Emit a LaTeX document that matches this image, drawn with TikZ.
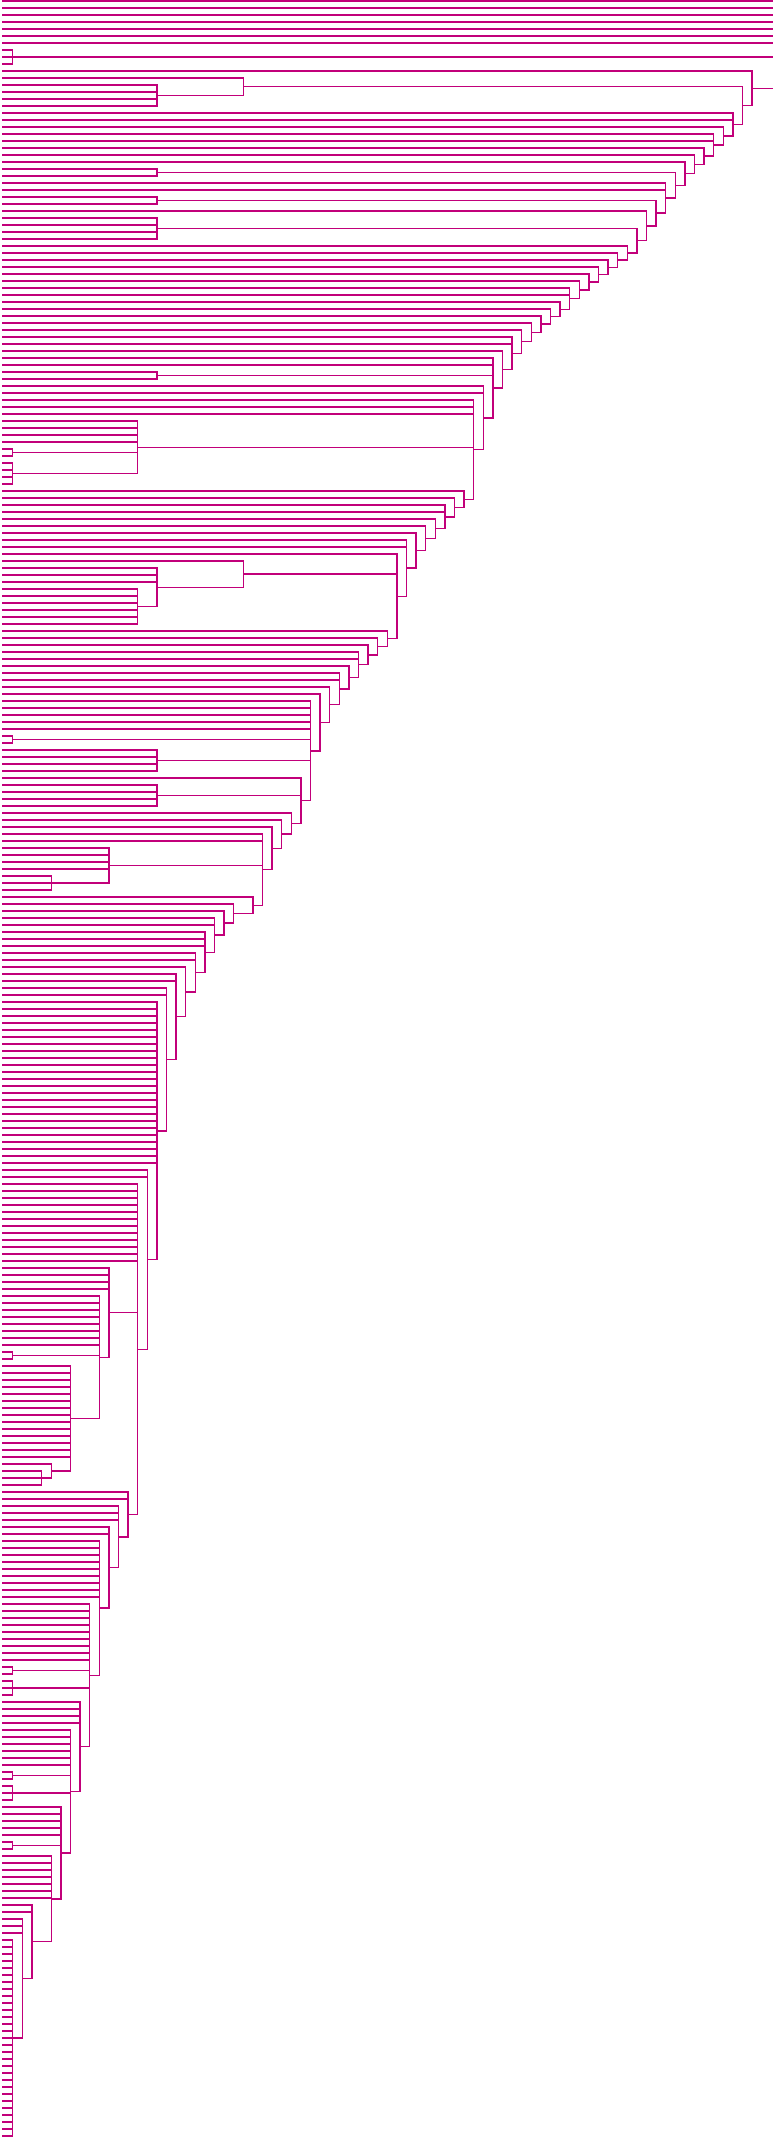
\documentclass[tikz,border=0pt]{standalone}
\usepackage{tikz}
\definecolor{branchcol}{RGB}{194,0,122}
\tikzset{branch/.style={draw=branchcol, line width=0.7pt, line cap=rect}}

\newcount\leafidx
\newcount\leafrun
% a leaf hands its row up to the clade that takes it
\newcommand\leafone{%
  \xdef\retY{\the\leafidx}\gdef\retX{0}%
  \global\advance\leafidx by 1\relax
  \childdone}
\newcommand\leaves[1]{\leafrun=#1\relax
  \loop\ifnum\leafrun>0 \leafone\advance\leafrun by -1\relax\repeat}
\newcommand\cladechild{%
  \draw[branch] (\retX,\retY) -- (\cladeh,\retY);
  \ifx\ytop\relax\edef\ytop{\retY}\fi
  \edef\ybot{\retY}}
% clade at height #1 with children #2
\newcommand\clade[2]{%
  \begingroup
    \def\cladeh{#1}\let\ytop\relax
    \let\childdone\cladechild
    #2%
    \draw[branch] (\cladeh,\ytop) -- (\cladeh,\ybot);
    \pgfmathsetmacro\ymid{(\ytop+\ybot)/2}%
    \xdef\retY{\ymid}\xdef\retX{\cladeh}%
  \endgroup
  \childdone}

\begin{document}
\begin{tikzpicture}[x=4.8pt, y=-3.5pt]
\useasboundingbox (-0.3333,-0.1429) rectangle (80.083,305.43);
\def\childdone{\draw[branch] (\retX,\retY) -- (80.2,\retY);}
% joined above the cut
\leaves{7}
\clade{1}{\leaves{3}}
\clade{78}{\leafone
\clade{77}{
\clade{25}{\leafone \clade{16}{\leaves{4}}}
\clade{76}{\leaves{2}
\clade{75}{\leafone
\clade{74}{\leaves{2}
\clade{73}{\leafone
\clade{72}{\leafone
\clade{71}{\leafone
\clade{70}{\clade{16}{\leaves{2}}
\clade{69}{\leaves{2}
\clade{68}{\clade{16}{\leaves{2}}
\clade{67}{\leafone
\clade{66}{\clade{16}{\leaves{4}}
\clade{65}{\leafone
\clade{64}{\leafone
\clade{63}{\leafone
\clade{62}{\leafone
\clade{61}{\leafone
\clade{60}{\leafone
\clade{59}{\leaves{2}
\clade{58}{\leafone
\clade{57}{\leafone
\clade{56}{\leafone
\clade{55}{\leafone
\clade{54}{\leafone
\clade{53}{\leaves{2}
\clade{52}{\leafone
\clade{51}{\leaves{2} \clade{16}{\leaves{2}}
\clade{50}{\leaves{2}
\clade{49}{\leaves{3} \clade{14}{\leaves{4} \clade{1}{\leaves{2}} \clade{1}{\leaves{4}}}
\clade{48}{\leafone
\clade{47}{\leafone
\clade{46}{\leaves{2}
\clade{45}{\leafone
\clade{44}{\leafone
\clade{43}{\leafone
\clade{42}{\leaves{2}
\clade{41}{\leafone \clade{25}{\leafone \clade{16}{\leaves{3} \clade{14}{\leaves{6}}}}
\clade{40}{\leafone
\clade{39}{\leafone
\clade{38}{\leafone
\clade{37}{\leaves{2}
\clade{36}{\leafone
\clade{35}{\leaves{2}
\clade{34}{\leafone
\clade{33}{\leafone
\clade{32}{\leaves{5} \clade{1}{\leaves{2}} \clade{16}{\leaves{4}}
\clade{31}{\leafone \clade{16}{\leaves{4}}
\clade{30}{\leafone
\clade{29}{\leafone
\clade{28}{\leafone
\clade{27}{\leaves{2} \clade{11}{\leaves{4} \clade{5}{\leaves{3}}}
\clade{26}{\leafone
\clade{24}{\leafone
\clade{23}{\leafone
\clade{22}{\leaves{2}
\clade{21}{\leaves{3}
\clade{20}{\leaves{2}
\clade{19}{\leafone
\clade{18}{\leaves{2}
\clade{17}{\leaves{2}
\clade{16}{\leaves{24}
\clade{15}{\leaves{2}
\clade{14}{\leaves{12}
\clade{11}{\leaves{4} \clade{10}{\leaves{8} \clade{1}{\leaves{2}} \clade{7}{\leaves{14} \clade{5}{\leafone \clade{4}{\leaves{3}}}}}}
\clade{13}{\leaves{2}
\clade{12}{\leaves{3}
\clade{11}{\leaves{2}
\clade{10}{\leaves{9}
\clade{9}{\leaves{9} \clade{1}{\leaves{2}} \clade{1}{\leaves{3}}
\clade{8}{\leaves{4}
\clade{7}{\leaves{6} \clade{1}{\leaves{2}} \clade{1}{\leaves{3}}
\clade{6}{\leaves{5} \clade{1}{\leaves{2}}
\clade{5}{\leaves{7}
\clade{3}{\leaves{2}
\clade{2}{\leaves{3} \clade{1}{\leaves{29}}
}}}}}}}}}}}}}}}}}}}}}}}}}}}}}}}}}}}}}}}}}}}}}}}}}}}}}}}}}}}}}}}}}}}}}}}}}}}
\end{tikzpicture}
\end{document}
